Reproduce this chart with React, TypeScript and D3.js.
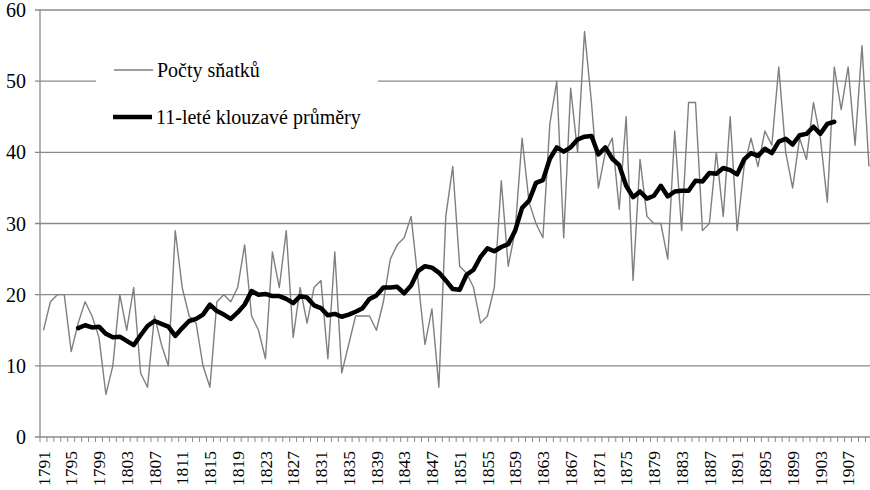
import React from "react";
import * as d3 from "d3";

const FIRST_YEAR = 1791;

// Počty sňatků (yearly counts), 1791–1910
const marriages: number[] = [
  15, 19, 20, 20, 12, 16, 19, 17, 14, 6, // 1791-1800
  10, 20, 15, 21, 9, 7, 17, 13, 10, 29, // 1801-1810
  21, 17, 16, 10, 7, 19, 20, 19, 21, 27, // 1811-1820
  17, 15, 11, 26, 21, 29, 14, 21, 16, 21, // 1821-1830
  22, 11, 26, 9, 13, 17, 17, 17, 15, 19, // 1831-1840
  25, 27, 28, 31, 22, 13, 18, 7, 31, 38, // 1841-1850
  24, 23, 21, 16, 17, 21, 36, 24, 29, 42, // 1851-1860
  33, 30, 28, 44, 50, 28, 49, 40, 57, 47, // 1861-1870
  35, 40, 42, 32, 45, 22, 39, 31, 30, 30, // 1871-1880
  25, 43, 29, 47, 47, 29, 30, 40, 31, 45, // 1881-1890
  29, 38, 42, 38, 43, 41, 52, 40, 35, 42, // 1891-1900
  39, 47, 42, 33, 52, 46, 52, 41, 55, 38, // 1901-1910
];

// 11-leté klouzavé průměry, 1796–1905
const MA_FIRST_YEAR = 1796;
const movingAvg: number[] = [
  15.3, 15.7, 15.4, 15.5, 14.5, 14.0, 14.1, 13.5, 12.9, 14.3, // 1796-1805
  15.6, 16.3, 15.9, 15.5, 14.2, 15.3, 16.3, 16.6, 17.2, 18.6, // 1806-1815
  17.7, 17.2, 16.6, 17.5, 18.6, 20.5, 20.0, 20.1, 19.8, 19.8, // 1816-1825
  19.4, 18.8, 19.8, 19.6, 18.5, 18.1, 17.1, 17.3, 16.9, 17.2, // 1826-1835
  17.6, 18.1, 19.4, 19.9, 21.0, 21.0, 21.1, 20.2, 21.3, 23.3, // 1836-1845
  24.0, 23.8, 23.1, 22.0, 20.8, 20.7, 22.8, 23.5, 25.3, 26.5, // 1846-1855
  26.1, 26.7, 27.1, 29.0, 32.2, 33.2, 35.7, 36.1, 39.1, 40.7, // 1856-1865
  40.1, 40.7, 41.8, 42.2, 42.3, 39.7, 40.7, 39.1, 38.2, 35.3, // 1866-1875
  33.7, 34.5, 33.5, 33.9, 35.3, 33.8, 34.5, 34.6, 34.6, 36.0, // 1876-1885
  35.9, 37.1, 37.0, 37.8, 37.5, 36.9, 39.0, 39.9, 39.5, 40.5, // 1886-1895
  39.9, 41.5, 41.9, 41.1, 42.4, 42.6, 43.6, 42.6, 44.0, 44.3, // 1896-1905
];

const yTicks: number[] = [0, 10, 20, 30, 40, 50, 60];
const xTickLabels: number[] = [
  1791, 1795, 1799, 1803, 1807, 1811, 1815, 1819, 1823, 1827, 1831, 1835,
  1839, 1843, 1847, 1851, 1855, 1859, 1863, 1867, 1871, 1875, 1879, 1883,
  1887, 1891, 1895, 1899, 1903, 1907,
];
const legendLabels: string[] = ["Počty sňatků", "11-leté klouzavé průměry"];

const FONT = '"Liberation Serif"';
const GRID = "#8a8a8a";

export default function App() {
  const W = 870;
  const H = 490;
  const left = 40;
  const right = 872.4;
  const top = 10;
  const bottom = 437;

  const years = d3.range(FIRST_YEAR, FIRST_YEAR + marriages.length);
  const x = d3.scaleBand<number>().domain(years).range([left, right]).padding(0);
  const y = d3.scaleLinear().domain([0, 60]).range([bottom, top]);
  const cx = (yr: number) => (x(yr) as number) + x.bandwidth() / 2;

  const rawPath = d3
    .line<number>()
    .x((_, i) => cx(FIRST_YEAR + i))
    .y((d) => y(d))(marriages) as string;

  const maPath = d3
    .line<number>()
    .x((_, i) => cx(MA_FIRST_YEAR + i))
    .y((d) => y(d))(movingAvg) as string;

  const boundaries = [...years.map((yr) => x(yr) as number), right];
  const ts = (size: number) => ({ fontFamily: FONT, fontSize: `${size}px` });

  return (
    <svg
      width={W}
      height={H}
      style={{ position: "absolute", left: 0, top: 0, background: "#fff" }}
    >
      <rect x={0} y={0} width={W} height={H} fill="#fff" />
      {yTicks.map((t) => (
        <line
          key={"g" + t}
          x1={left - 5}
          x2={W}
          y1={y(t)}
          y2={y(t)}
          stroke={GRID}
          strokeWidth={1.3}
        />
      ))}
      <line x1={left} x2={left} y1={top} y2={bottom} stroke={GRID} strokeWidth={1.3} />
      {boundaries.map((bx, i) => (
        <line
          key={"xt" + i}
          x1={bx}
          x2={bx}
          y1={bottom}
          y2={bottom + 5}
          stroke={GRID}
          strokeWidth={1}
        />
      ))}
      {yTicks.map((t) => (
        <text
          key={"yl" + t}
          x={26}
          y={y(t)}
          dy="0.35em"
          textAnchor="end"
          style={ts(20)}
          fill="#000"
        >
          {t}
        </text>
      ))}
      {xTickLabels.map((yr) => (
        <text
          key={"xl" + yr}
          transform={`translate(${cx(yr)},${451}) rotate(-90)`}
          dy="0.35em"
          textAnchor="end"
          style={ts(17.5)}
          fill="#000"
        >
          {yr}
        </text>
      ))}
      <rect x={96} y={56} width={282} height={84} fill="#fff" />
      <path d={rawPath} fill="none" stroke="#7f7f7f" strokeWidth={1.4} strokeLinejoin="round" />
      <path
        d={maPath}
        fill="none"
        stroke="#000"
        strokeWidth={4.5}
        strokeLinejoin="round"
        strokeLinecap="round"
      />
      <line x1={114} x2={153} y1={70} y2={70} stroke="#7f7f7f" strokeWidth={1.4} />
      <text x={157} y={77} style={ts(20)} fill="#000">
        {legendLabels[0]}
      </text>
      <line x1={113} x2={152} y1={117} y2={117} stroke="#000" strokeWidth={4.5} />
      <text x={156} y={124} style={ts(20)} fill="#000">
        {legendLabels[1]}
      </text>
    </svg>
  );
}
